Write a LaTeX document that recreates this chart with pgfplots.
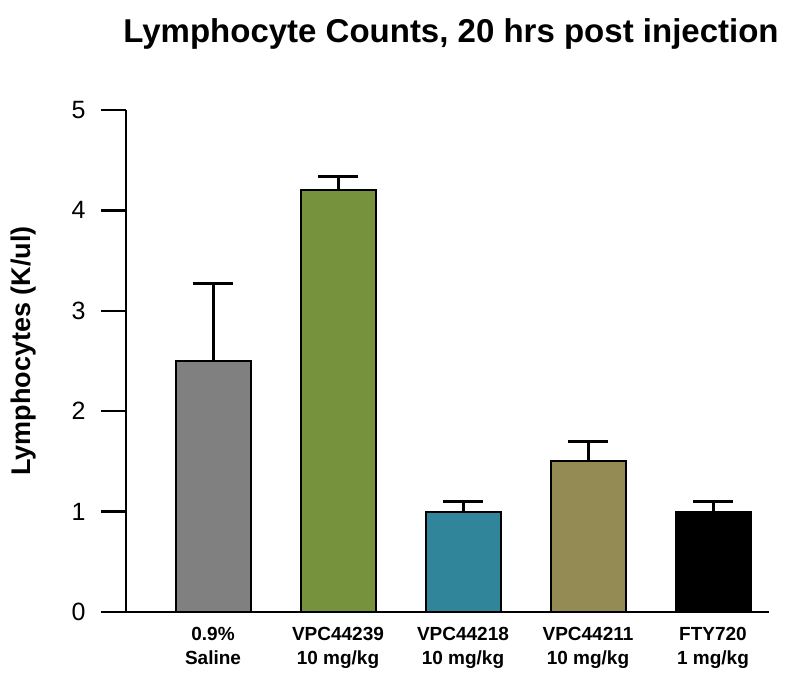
\documentclass[border=0pt]{standalone}
\usepackage{pgfplots}
\pgfplotsset{compat=1.18}
\usepackage{fontspec}
\setmainfont{Liberation Sans}
\definecolor{cgray}{RGB}{128,128,128}
\definecolor{cgreen}{RGB}{118,146,60}
\definecolor{cteal}{RGB}{49,133,155}
\definecolor{colive}{RGB}{148,138,84}
\begin{document}
\begin{tikzpicture}[x=1pt,y=1pt]
\useasboundingbox (0,0) rectangle (800,684);
\node[font=\bfseries\fontsize{33}{36}\selectfont] at (451,650) {Lymphocyte Counts, 20 hrs post injection};
\node[font=\bfseries\fontsize{27}{30}\selectfont, rotate=90] at (24,333) {Lymphocytes (K/ul)};
\begin{axis}[
  at={(126pt,72pt)}, anchor=south west,
  scale only axis, width=643pt, height=502pt,
  xmin=-0.696, xmax=4.448, ymin=0, ymax=5,
  axis x line*=bottom, axis y line*=left,
  axis line style={line width=2.5pt},
  ytick={0,1,2,3,4,5},
  xtick={0,1,2,3,4},
  xticklabels={{0.9\%\\Saline},{VPC44239\\10 mg/kg},{VPC44218\\10 mg/kg},{VPC44211\\10 mg/kg},{FTY720\\1 mg/kg}},
  xtick style={draw=none},
  ytick style={line width=2.5pt, black},
  major tick length=25pt,
  tick align=outside,
  yticklabel style={font=\fontsize{25}{28}\selectfont, xshift=-12pt},
  xticklabel style={font=\bfseries\fontsize{19}{24}\selectfont, align=center, yshift=13pt},
  /pgf/number format/assume math mode=true,
  ybar, bar width=75pt, bar shift=0pt,
  error bars/y dir=plus, error bars/y explicit,
  error bars/error bar style={line width=3pt, black},
  error bars/error mark options={rotate=90, mark size=20pt, line width=3pt, black},
  clip=false,
]
\addplot[fill=cgray, draw=black, line width=2pt] coordinates {(0,2.5) +- (0,0.77)};
\addplot[fill=cgreen, draw=black, line width=2pt] coordinates {(1,4.2) +- (0,0.14)};
\addplot[fill=cteal, draw=black, line width=2pt] coordinates {(2,1.0) +- (0,0.1)};
\addplot[fill=colive, draw=black, line width=2pt] coordinates {(3,1.5) +- (0,0.2)};
\addplot[fill=black, draw=black, line width=2pt] coordinates {(4,1.0) +- (0,0.1)};
\end{axis}
\end{tikzpicture}
\end{document}
